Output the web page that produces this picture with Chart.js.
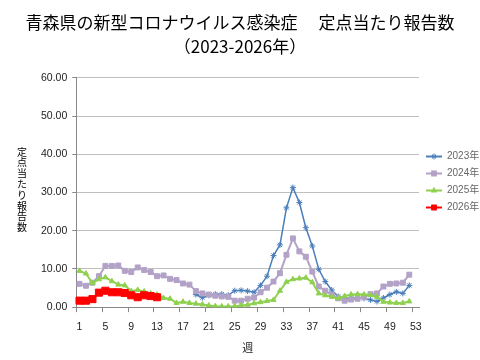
<!DOCTYPE html>
<html>
<head>
<meta charset="utf-8">
<script src="https://cdn.jsdelivr.net/npm/chart.js@4"></script>
<style>
html, body { margin: 0; padding: 0; background: #fff; }
#wrap { width: 480px; height: 360px; }
</style>
</head>
<body>
<div id="wrap"><canvas id="chart" width="480" height="360"></canvas></div>
<script>
const titleLines = ["青森県の新型コロナウイルス感染症　 定点当たり報告数", "（2023-2026年）"];
const yTitle = "定点当たり報告数";
const xTitle = "週";

const weeks = ["1","2","3","4","5","6","7","8","9","10","11","12","13","14","15","16","17","18","19","20",
  "21","22","23","24","25","26","27","28","29","30","31","32","33","34","35","36","37","38","39","40",
  "41","42","43","44","45","46","47","48","49","50","51","52","53"];

const y2023 = [null,null,null,null,null,null,null,null,null,null,null,null,null,null,null,null,null,null,
  3.3,2.5,3.1,3.4,3.4,3.1,4.3,4.4,4.2,3.9,5.7,8.1,13.5,16.3,26.0,31.3,27.4,20.8,16.0,9.9,6.7,4.5,
  2.8,2.3,2.5,2.3,2.3,1.9,1.5,2.4,3.3,4.0,3.6,5.7];
const y2024 = [6.1,5.6,6.4,8.1,10.8,10.8,10.9,9.5,9.2,10.4,9.7,9.2,8.1,8.3,7.4,7.1,6.2,5.9,4.2,3.6,
  3.3,3.0,2.8,2.7,1.7,1.7,2.2,2.5,3.9,5.1,6.7,8.9,13.7,18.0,14.6,13.2,9.3,5.4,4.3,3.3,
  2.3,1.7,2.0,2.2,2.7,3.4,3.6,5.4,6.1,6.2,6.4,8.5];
const y2025 = [9.5,8.8,6.3,7.3,7.8,6.8,5.9,5.7,4.2,4.5,4.1,3.6,3.3,2.4,2.2,1.1,1.4,1.1,0.9,0.7,
  0.45,0.25,0.2,0.2,0.25,0.45,0.6,1.0,1.3,1.6,1.9,4.3,6.6,7.3,7.5,7.7,6.5,3.6,3.1,2.7,
  2.3,2.9,3.3,3.4,3.3,3.2,2.7,1.4,1.2,1.1,1.1,1.5];
const y2026 = [1.7,1.7,2.1,3.8,4.3,3.9,3.9,3.7,3.1,2.6,3.1,2.9,2.6];

const seriesNames = ["2023年", "2024年", "2025年", "2026年"];

const FONT = "'Liberation Sans', 'Noto Sans CJK JP', sans-serif";
const CJK = "'Noto Sans CJK JP', sans-serif";

function series(label, data, color, style, radius, width, order) {
    return {
        label, data, order,
        borderColor: color, backgroundColor: color,
        pointBackgroundColor: color, pointBorderColor: color,
        pointStyle: style, pointRadius: radius, pointBorderWidth: 1,
        borderWidth: width, tension: 0, spanGaps: false
    };
}

// little line+marker picture for the legend, like Excel's
function legendIcon(ds) {
    const c = document.createElement("canvas");
    c.width = 16; c.height = 10;
    const g = c.getContext("2d");
    g.strokeStyle = ds.borderColor;
    g.fillStyle = ds.borderColor;
    g.lineWidth = 2;
    g.beginPath(); g.moveTo(0, 5); g.lineTo(16, 5); g.stroke();
    g.lineWidth = 1;
    Chart.helpers.drawPoint(g, { pointStyle: ds.pointStyle, radius: Math.min(ds.pointRadius, 3.5), rotation: 0, borderWidth: 1 }, 8, 5);
    return c;
}

// vertical (stacked) y axis title
const yTitlePlugin = {
    id: "yTitle",
    afterDraw(chart) {
        const { ctx, chartArea, scales } = chart;
        const chars = [...yTitle];
        const lh = 10.8;
        const cx = scales.y.left + 22;
        const cy = (chartArea.top + chartArea.bottom) / 2 - 3;
        ctx.save();
        ctx.font = "10px " + CJK;
        ctx.fillStyle = "#000";
        ctx.textAlign = "center";
        ctx.textBaseline = "middle";
        chars.forEach((ch, i) => ctx.fillText(ch, cx, cy + (i - (chars.length - 1) / 2) * lh));
        ctx.restore();
    }
};

new Chart(document.getElementById("chart").getContext("2d"), {
    type: "line",
    data: {
        labels: weeks,
        datasets: [
            series(seriesNames[0], y2023, "#4A7EBB", "star", 3, 1.5, 3),
            series(seriesNames[1], y2024, "#B3A2C7", "rect", 3.5, 2, 2),
            series(seriesNames[2], y2025, "#8FD14F", "triangle", 3, 2, 1),
            series(seriesNames[3], y2026, "#FF0000", "rect", 5, 2, 0)
        ]
    },
    options: {
        responsive: false,
        animation: false,
        layout: { padding: { left: 0, right: 0, bottom: 6 } },
        plugins: {
            title: {
                display: true,
                text: titleLines,
                color: "#000",
                font: { family: CJK, size: 17, weight: "normal", lineHeight: 1.41 },
                padding: { top: 11, bottom: 19 }
            },
            legend: {
                position: "right",
                maxWidth: 61,
                title: { display: true, text: "", font: { size: 6, lineHeight: 1 }, padding: 2 },
                labels: {
                    usePointStyle: true,
                    pointStyleWidth: 16,
                    padding: 7,
                    color: "#222",
                    font: { family: FONT, size: 10 },
                    generateLabels: chart => chart.data.datasets.map((ds, i) => ({
                        text: ds.label,
                        pointStyle: legendIcon(ds),
                        fillStyle: ds.borderColor,
                        strokeStyle: ds.borderColor,
                        lineWidth: 0,
                        hidden: false,
                        datasetIndex: i
                    }))
                }
            },
            tooltip: { enabled: false }
        },
        scales: {
            x: {
                offset: true,
                grid: {
                    offset: true,
                    drawOnChartArea: false,
                    tickLength: 5,
                    tickColor: ctx => ctx.index % 4 === 0 ? "#888" : "rgba(0,0,0,0)"
                },
                border: { color: "#888" },
                ticks: {
                    autoSkip: false,
                    maxRotation: 0,
                    padding: 10,
                    color: "#222",
                    font: { family: FONT, size: 10.5, lineHeight: 1 },
                    callback: (v, i) => i % 4 === 0 ? weeks[i] : ""
                },
                title: {
                    display: true,
                    text: xTitle,
                    color: "#222",
                    font: { family: CJK, size: 11, lineHeight: 0.85 },
                    padding: { top: 0, bottom: 2 }
                }
            },
            y: {
                min: 0,
                max: 60,
                afterFit: scale => { scale.width += 36; },
                grid: { color: "#BFBFBF", tickLength: 4, tickColor: "#888" },
                border: { color: "#888" },
                ticks: {
                    stepSize: 10,
                    padding: 5,
                    color: "#222",
                    font: { family: FONT, size: 10.5 },
                    callback: v => v.toFixed(2)
                }
            }
        }
    },
    plugins: [yTitlePlugin]
});
</script>
</body>
</html>
